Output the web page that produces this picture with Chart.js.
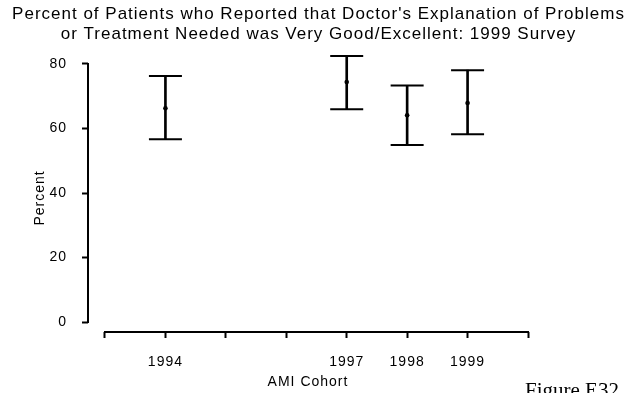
<!DOCTYPE html>
<html>
<head>
<meta charset="utf-8">
<script src="https://cdn.jsdelivr.net/npm/chart.js@4.4.1/dist/chart.umd.min.js"></script>
<style>
  html, body { margin: 0; padding: 0; background: #fff; }
  canvas { display: block; }
</style>
</head>
<body>
<canvas id="c" width="637" height="393"></canvas>
<script>
// AMI cohort survey years and the estimated percent with its interval
const years = [1994, 1997, 1998, 1999];
const pctMid = [66.3, 74.4, 64.1, 67.9];
const pctLow = [56.7, 66.0, 54.9, 58.2];
const pctHigh = [76.3, 82.5, 73.3, 78.1];

// axis ticks
const xTickYears = [1993, 1994, 1995, 1996, 1997, 1998, 1999, 2000];
const xLabelYears = [1994, 1997, 1998, 1999];
const yTicks = [0, 20, 40, 60, 80];

const titleLines = [
  "Percent of Patients who Reported that Doctor's Explanation of Problems",
  "or Treatment Needed was Very Good/Excellent: 1999 Survey"
];
const figureLabel = "Figure E32";

const FONT = "'Liberation Sans', Arial, Helvetica, sans-serif";

// Wide lettering for all chart text
const wideText = {
  id: 'wideText',
  beforeLayout(chart) { chart.ctx.letterSpacing = '1px'; },
  beforeDraw(chart) { chart.ctx.letterSpacing = '1px'; }
};

// Axis lines drawn detached from each other, spanning only the tick range
const axisLines = {
  id: 'axisLines',
  afterDraw(chart) {
    const { ctx, scales: { x, y } } = chart;
    ctx.save();
    ctx.strokeStyle = '#000';
    ctx.lineWidth = 2;
    ctx.beginPath();
    const yx = chart.chartArea.left;
    ctx.moveTo(yx, y.getPixelForValue(yTicks[yTicks.length - 1]) - 1);
    ctx.lineTo(yx, y.getPixelForValue(yTicks[0]) + 1);
    const xy = chart.chartArea.bottom;
    ctx.moveTo(x.getPixelForValue(xTickYears[0]) - 1, xy);
    ctx.lineTo(x.getPixelForValue(xTickYears[xTickYears.length - 1]) + 1, xy);
    ctx.stroke();
    // figure caption in the bottom-right corner
    ctx.letterSpacing = '0px';
    ctx.fillStyle = '#000';
    ctx.font = "21px 'Liberation Serif', 'Times New Roman', serif";
    ctx.textBaseline = 'alphabetic';
    ctx.textAlign = 'left';
    ctx.fillText(figureLabel, 525, 397);
    ctx.restore();
  }
};

const barData = years.map((yr, i) => ({ x: yr, y: [pctLow[i], pctHigh[i]] }));
const capData = years.flatMap((yr, i) => [{ x: yr, y: pctLow[i] }, { x: yr, y: pctHigh[i] }]);
const midData = years.map((yr, i) => ({ x: yr, y: pctMid[i] }));

new Chart(document.getElementById('c'), {
  data: {
    datasets: [
      {
        type: 'bar',
        data: barData,
        backgroundColor: '#000',
        borderWidth: 0,
        barThickness: 2,
        clip: false
      },
      {
        type: 'scatter',
        data: capData,
        pointStyle: 'line',
        pointRadius: 16.5,
        borderColor: '#000',
        borderWidth: 2,
        clip: false
      },
      {
        type: 'scatter',
        data: midData,
        pointStyle: 'circle',
        pointRadius: 2.3,
        backgroundColor: '#000',
        borderColor: '#000',
        borderWidth: 0,
        clip: false
      }
    ]
  },
  options: {
    responsive: false,
    animation: false,
    events: [],
    devicePixelRatio: 1,
    layout: { padding: 0 },
    plugins: {
      legend: { display: false },
      tooltip: { enabled: false },
      title: {
        display: true,
        text: titleLines,
        color: '#000',
        font: { family: FONT, size: 17, weight: 'normal', lineHeight: 1.147 },
        padding: { top: 5, bottom: 20 }
      }
    },
    scales: {
      x: {
        type: 'linear',
        offset: false,
        min: 1992.7187,
        max: 2000,
        afterBuildTicks(scale) { scale.ticks = xTickYears.map(v => ({ value: v })); },
        afterFit(scale) { scale.height = 61; },
        ticks: {
          color: '#000',
          font: { family: FONT, size: 14 },
          padding: 16,
          maxRotation: 0,
          autoSkip: false,
          callback: (v) => xLabelYears.includes(v) ? String(v) : ''
        },
        grid: {
          offset: false,
          drawOnChartArea: false,
          drawTicks: true,
          tickLength: 6,
          tickWidth: 2,
          tickColor: '#000'
        },
        border: { display: false },
        title: {
          display: true,
          text: 'AMI Cohort',
          color: '#000',
          font: { family: FONT, size: 14 },
          padding: { top: 0, bottom: 2 }
        }
      },
      y: {
        type: 'linear',
        min: -3.1,
        max: 80,
        afterBuildTicks(scale) { scale.ticks = yTicks.map(v => ({ value: v })); },
        afterFit(scale) { scale.width = 88; },
        ticks: {
          color: '#000',
          font: { family: FONT, size: 14 },
          padding: 15
        },
        grid: {
          drawOnChartArea: false,
          drawTicks: true,
          tickLength: 6,
          tickWidth: 2,
          tickColor: '#000'
        },
        border: { display: false },
        title: {
          display: true,
          text: 'Percent',
          color: '#000',
          font: { family: FONT, size: 14 },
          padding: { top: 32, bottom: 0 }
        }
      },
      // empty right-hand margin beside the plot
      yRight: {
        type: 'linear',
        position: 'right',
        min: 0,
        max: 1,
        afterBuildTicks(scale) { scale.ticks = []; },
        afterFit(scale) { scale.width = 109; },
        ticks: { display: false },
        grid: { display: false, drawTicks: false },
        border: { display: false },
        title: { display: false }
      }
    }
  },
  plugins: [wideText, axisLines]
});
</script>
</body>
</html>
